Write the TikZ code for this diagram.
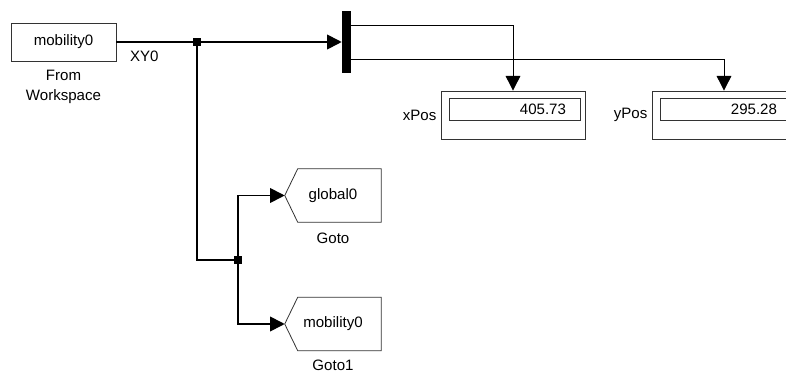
\documentclass[tikz,border=0pt]{standalone}
\usepackage{fontspec}
\setmainfont{Liberation Sans}
\usetikzlibrary{arrows.meta,positioning}

\tikzset{
  blk/.style={draw=black!80, line width=0.6pt, inner sep=0pt},
  lbl/.style={inner sep=1pt},
  junc/.style={fill=black, minimum size=6pt, inner sep=0pt},
  tip/.style={-{Triangle[length=11pt,width=11pt]}},
}

\begin{document}
\begin{tikzpicture}[x=0.75pt, y=-0.75pt, font=\fontsize{11.3}{15}\selectfont,
    sig/.style={line width=1.3pt},
    thinsig/.style={line width=0.7pt},
    disp/.style={blk, minimum width=108pt, minimum height=36pt},
    dispval/.style={blk, text width=77.25pt, align=right, inner xsep=10.5pt, minimum height=16.5pt},
    gotobox/.style={minimum width=72pt, minimum height=39.75pt, inner sep=0pt}]
    \useasboundingbox (0,0) rectangle (786,374);
    \clip (0,0) rectangle (786,374);

    % source
    \node[blk, minimum width=78.75pt, minimum height=28.5pt] (fws) at (63.5,42) {mobility0};
    \node[lbl, below=5.4pt of fws, align=center] (fwsname) {From\\Workspace};

    % mux bar
    \node[fill=black, minimum width=6.75pt, minimum height=46.5pt, inner sep=0pt] (mux) at (346.5,42) {};

    % branch points
    \node[junc] (j1) at (197,42) {};
    \node[junc] (j2) at (238,260) {};

    % displays
    \node[disp] (xpos) at (513,115) {};
    \node[dispval, anchor=north west] (xval) at ([xshift=6pt,yshift=-5.25pt]xpos.north west) {405.73};
    \node[lbl, left=2pt of xpos] (xname) {xPos};
    \node[disp] (ypos) at (724,115) {};
    \node[dispval, anchor=north west] (yval) at ([xshift=6pt,yshift=-5.25pt]ypos.north west) {295.28};
    \node[lbl, left=2pt of ypos] (yname) {yPos};

    % goto blocks
    \node[gotobox] (goto0) at (333,195.5) {global0};
    \node[lbl, below=6.8pt of goto0] (goto0name) {Goto};
    \node[gotobox] (goto1) at (333,324) {mobility0};
    \node[lbl, below=6pt of goto1] (goto1name) {Goto1};
    \foreach \g in {goto0,goto1}
        \draw[draw=black!80, line width=0.6pt] (\g.west) -- ([xshift=9.75pt]\g.north west) -- (\g.north east)
            -- (\g.south east) -- ([xshift=9.75pt]\g.south west) -- cycle;

    % signals
    \draw[sig, tip] (fws.east) -- node[lbl, pos=0.124, below=5pt] (xylbl) {XY0} (mux.west);
    \draw[sig] (j1.center) |- (j2.center);
    \draw[sig, tip] (j2.center) |- (goto0.west);
    \draw[sig, tip] (j2.center) |- (goto1.west);
    \draw[thinsig, tip] ([yshift=12.75pt]mux.east) -| (xpos.north);
    \draw[thinsig, tip] ([yshift=-12.75pt]mux.east) -| (ypos.north);
\end{tikzpicture}
\end{document}
